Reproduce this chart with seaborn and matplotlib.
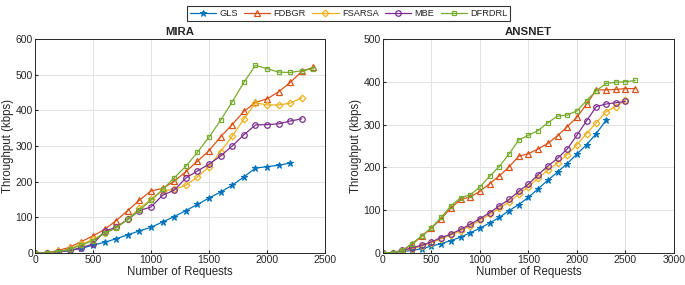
import numpy as np
import pandas as pd
import matplotlib
matplotlib.use("Agg")
import matplotlib.pyplot as plt
import seaborn as sns

sns.set_style("whitegrid")
plt.rcParams['font.family'] = ['Liberation Sans', 'DejaVu Sans']

series = ["GLS", "FDBGR", "FSARSA", "MBE", "DFRDRL"]
colors = ["#0072BD", "#D95319", "#EDB120", "#7E2F8E", "#77AC30"]
markers = ["*", "^", "D", "o", "s"]

# MIRA
mira_gls = [0, 0, 3, 7, 13, 22, 30, 40, 51, 62, 72, 87, 102, 119, 136, 154, 171, 190, 213, 238, 242, 246, 252]
mira_fdbgr = [0, 1, 7, 16, 32, 48, 66, 91, 119, 148, 174, 181, 201, 228, 257, 287, 326, 360, 397, 422, 432, 452, 478, 509, 521]
mira_fsarsa = [0, 1, 5, 12, 25, 38, 55, 72, 95, 125, 150, 175, 178, 190, 213, 242, 284, 328, 375, 421, 415, 415, 420, 435]
mira_mbe = [0, 0, 3, 7, 15, 25, 61, 72, 94, 119, 129, 162, 176, 210, 230, 249, 272, 300, 331, 359, 360, 362, 370, 376]
mira_dfrdrl = [0, 0, 4, 10, 22, 35, 55, 70, 95, 120, 148, 178, 211, 243, 282, 325, 372, 424, 478, 526, 517, 507, 506, 511, 517]

# ANSNET
ans_gls = [0, 1, 3, 6, 10, 16, 22, 29, 37, 47, 58, 70, 83, 99, 113, 130, 150, 170, 189, 209, 231, 253, 279, 310]
ans_fdbgr = [0, 1, 5, 20, 39, 58, 80, 105, 125, 131, 144, 162, 180, 201, 226, 232, 243, 256, 274, 295, 317, 348, 381, 381, 382, 384, 384]
ans_fsarsa = [0, 1, 5, 10, 16, 24, 33, 42, 52, 63, 76, 90, 104, 119, 137, 155, 175, 193, 210, 230, 253, 279, 304, 330, 342, 357]
ans_mbe = [0, 1, 6, 12, 18, 26, 36, 44, 55, 67, 80, 94, 110, 125, 144, 161, 183, 203, 221, 243, 275, 309, 342, 348, 351, 354]
ans_dfrdrl = [0, 1, 6, 22, 40, 59, 83, 110, 129, 136, 154, 179, 202, 231, 264, 275, 286, 304, 320, 322, 332, 356, 379, 396, 399, 400, 403]

step = 100
panels = [
    ("MIRA", [mira_gls, mira_fdbgr, mira_fsarsa, mira_mbe, mira_dfrdrl], (0, 2500), [0, 500, 1000, 1500, 2000, 2500], (0, 600), [0, 100, 200, 300, 400, 500, 600]),
    ("ANSNET", [ans_gls, ans_fdbgr, ans_fsarsa, ans_mbe, ans_dfrdrl], (0, 3000), [0, 500, 1000, 1500, 2000, 2500, 3000], (0, 500), [0, 100, 200, 300, 400, 500]),
]

fig = plt.figure(figsize=(6.85, 2.85), dpi=100)
axes = [fig.add_axes([0.0511, 0.1123, 0.4234, 0.751]),
        fig.add_axes([0.559, 0.1123, 0.4248, 0.751])]

for ax, (title, data, xlim, xt, ylim, yt) in zip(axes, panels):
    for name, vals, c, m in zip(series, data, colors, markers):
        df = pd.DataFrame({"x": np.arange(len(vals)) * step, "y": vals})
        if m == "*":
            kw = dict(markerfacecolor=c, markeredgecolor=c, markersize=4.5)
        else:
            kw = dict(markerfacecolor="none", markeredgecolor=c,
                      markersize={"^": 4.2, "D": 3.4, "o": 4.0, "s": 3.4}[m], markeredgewidth=0.9)
        sns.lineplot(data=df, x="x", y="y", ax=ax, color=c, marker=m, linewidth=0.9, label=name, legend=False, **kw)
    ax.set_xlim(*xlim)
    ax.set_ylim(*ylim)
    ax.set_xticks(xt)
    ax.set_yticks(yt)
    ax.set_title(title, fontsize=8.2, fontweight="bold", pad=3)
    ax.set_xlabel("Number of Requests", fontsize=8.3, labelpad=1)
    ax.set_ylabel("Throughput (kbps)", fontsize=8.3, labelpad=1)
    ax.tick_params(labelsize=7.5, direction="in", length=2.5, pad=1.5, left=True, bottom=True)
    ax.grid(True, color="#e3e3e3", linewidth=0.7)
    for s in ax.spines.values():
        s.set_color("#262626")
        s.set_linewidth(0.7)
        s.set_visible(True)

handles, labels = axes[0].get_legend_handles_labels()
leg = fig.legend(handles, labels, loc="upper center", bbox_to_anchor=(0.509, 0.995), ncol=5,
                 fontsize=6.7, frameon=True, fancybox=False, edgecolor="black",
                 handlelength=2.8, columnspacing=0.7, handletextpad=0.35, borderpad=0.3)
leg.get_frame().set_linewidth(0.8)

fig.savefig("out.png", dpi=100)
